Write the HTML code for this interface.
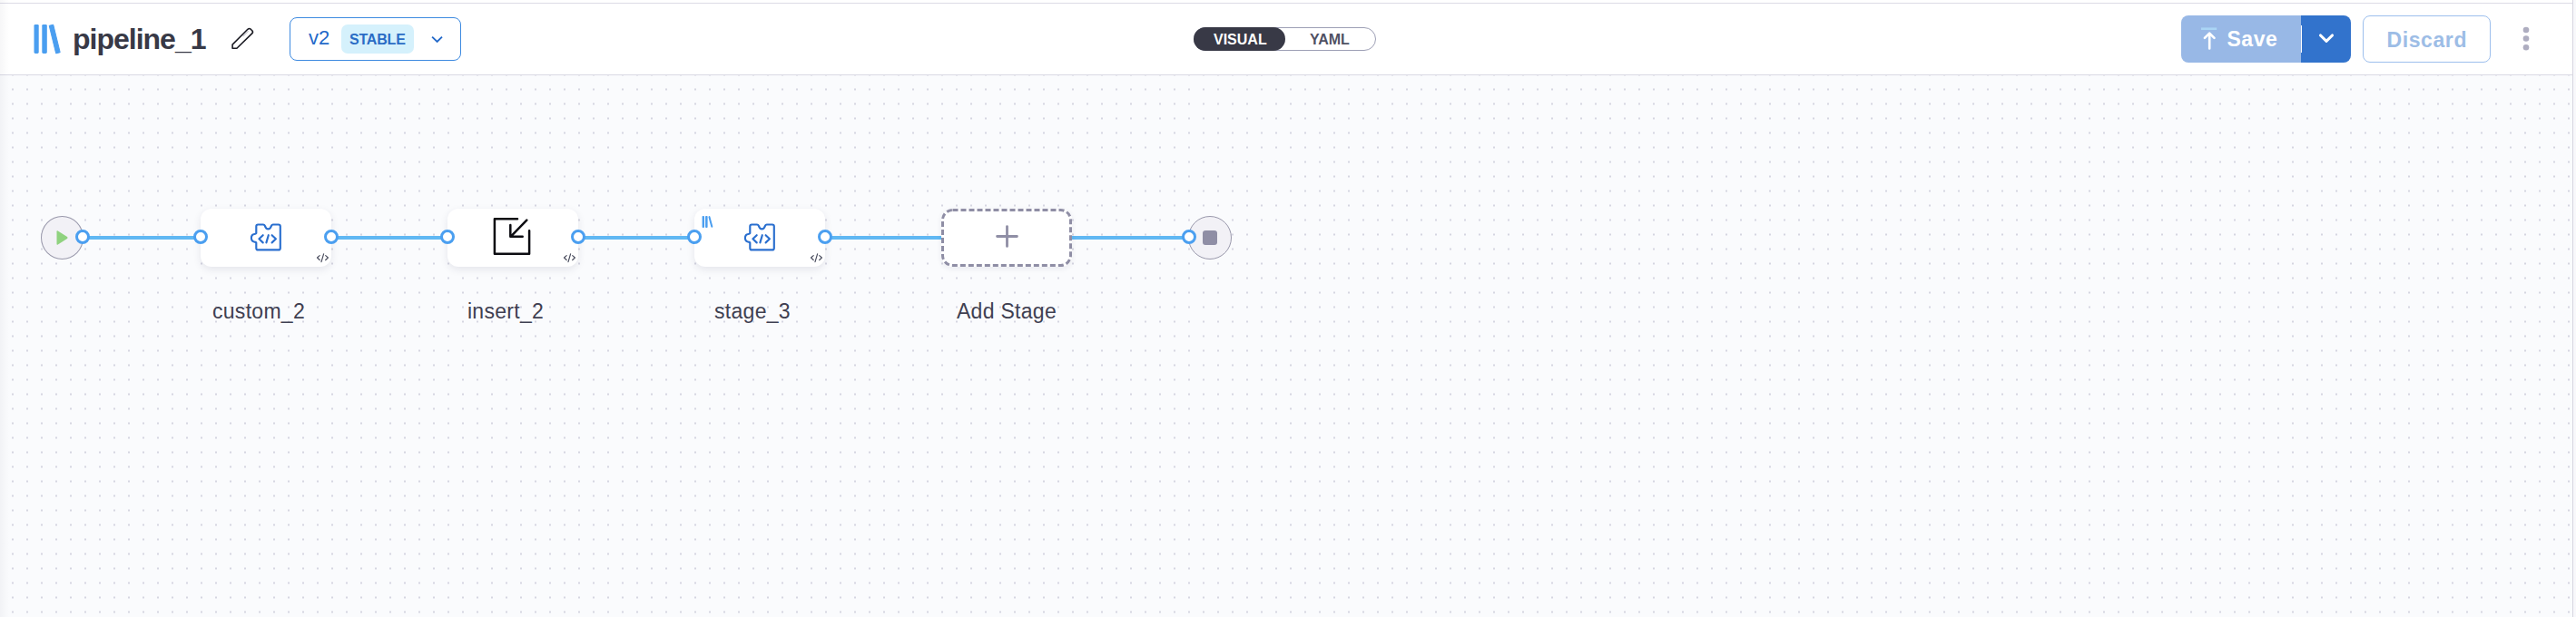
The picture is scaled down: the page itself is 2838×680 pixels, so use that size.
<!DOCTYPE html>
<html><head><meta charset="utf-8">
<style>
*{margin:0;padding:0;box-sizing:border-box}
html,body{width:2838px;height:680px;overflow:hidden;background:#fff;font-family:"Liberation Sans",sans-serif}
.abs{position:absolute}
#header{position:absolute;left:0;top:0;width:2834px;height:83px;background:#fff}
#topline{position:absolute;left:0;top:3px;width:2834px;height:1px;background:#dcdbe6}
#hline{position:absolute;left:0;top:82px;width:2834px;height:1px;background:#d9d9e4}
#canvas{position:absolute;left:0;top:83px;width:2834px;height:597px;background-color:#fafbfd;
}
#dots{position:absolute;left:0;top:83px;width:2834px;height:597px}
#rline{position:absolute;left:2834px;top:0;width:1px;height:680px;background:#d6d5e0}
#rfill{position:absolute;left:2835px;top:0;width:3px;height:680px;background:#f8f8fb}
#lshadow{position:absolute;left:0;top:0;width:10px;height:680px;background:linear-gradient(to right,rgba(60,60,90,0.045),rgba(60,60,90,0))}
.t{position:absolute;white-space:nowrap;line-height:1}
.card{width:144px;height:64px;border-radius:12px;background:#fff;box-shadow:0 3px 8px rgba(40,40,80,0.10)}
.port{width:16px;height:16px;border-radius:50%;background:#fff;border:3px solid #4b9ff0}
.lbl{font-size:23px;color:#3f4051;width:200px;text-align:center;letter-spacing:0.3px}
</style></head>
<body>
<div id="canvas"></div>
<svg id="dots" width="2834" height="597">
 <defs><pattern id="dp" x="0" y="8" width="16" height="16" patternUnits="userSpaceOnUse"><rect x="13" y="6.5" width="2" height="2" fill="#d5d6e1"/></pattern></defs>
 <rect width="2834" height="597" fill="url(#dp)"/>
</svg>
<div id="header"></div>
<div id="topline"></div>
<div id="hline"></div>
<div id="rline"></div>
<div id="rfill"></div>
<div id="lshadow"></div>

<!-- header content -->
<svg class="abs" style="left:36px;top:26px" width="32" height="34" viewBox="0 0 32 34">
 <rect x="1.5" y="0.9" width="5.2" height="32.1" rx="1.4" fill="#4a9ef0"/>
 <rect x="10.3" y="0.9" width="5.5" height="32.1" rx="1.4" fill="#4a9ef0"/>
 <path d="M18.2 2.3 L22.7 1.2 L30.2 31.7 L25.7 32.9 Z" fill="#4a9ef0" stroke="#4a9ef0" stroke-width="1" stroke-linejoin="round"/>
</svg>
<div class="t" id="title" style="left:80px;top:27px;font-size:32px;font-weight:bold;color:#383946;letter-spacing:-1px">pipeline_1</div>
<svg class="abs" style="left:250px;top:26px" width="34" height="32" viewBox="0 0 34 32">
 <path d="M6.1 27.3 V23.1 L22.9 6.3 Q24.6 4.8 26.2 6.2 L27.8 7.8 Q29.2 9.4 27.7 10.9 L10.9 27.3 Z" fill="none" stroke="#1c1c24" stroke-width="1.6" stroke-linejoin="round"/>
 <path d="M17.6 14 L23.6 8.2" stroke="#c4c4cc" stroke-width="1.1"/>
</svg>

<div class="abs" style="left:319px;top:19px;width:189px;height:48px;border:1.5px solid #3d8ae0;border-radius:8px"></div>
<div class="t" style="left:340px;top:31px;font-size:22px;color:#2369c9">v2</div>
<div class="abs" style="left:376px;top:27px;width:80px;height:32px;background:#d5f1fc;border-radius:7px"></div>
<div class="t" style="left:385px;top:36px;font-size:16px;font-weight:bold;color:#2a6cc5;letter-spacing:-0.2px">STABLE</div>
<svg class="abs" style="left:474px;top:38px" width="16" height="11" viewBox="0 0 16 11">
 <path d="M2.1 2.6 L7.6 8 L13 2.6" fill="none" stroke="#2369c9" stroke-width="1.9"/>
</svg>

<div class="abs" style="left:1315px;top:30px;width:201px;height:26px;border:1px solid #9d9fb5;border-radius:13px"></div>
<div class="abs" style="left:1315px;top:30px;width:101px;height:26px;background:#383946;border-radius:13px"></div>
<div class="t" style="left:1337px;top:36px;font-size:16px;font-weight:bold;color:#fff">VISUAL</div>
<div class="t" style="left:1443px;top:36px;font-size:16px;font-weight:bold;color:#4f5163">YAML</div>

<div class="abs" style="left:2403px;top:17px;width:187px;height:52px;border-radius:8px;overflow:hidden">
 <div class="abs" style="left:0;top:0;width:132px;height:52px;background:#98b8e6"></div>
 <div class="abs" style="left:132px;top:0;width:55px;height:52px;background:#3273cc"></div>
 <div class="abs" style="left:132px;top:11px;width:1px;height:30px;background:#fff"></div>
</div>
<svg class="abs" style="left:2423px;top:29px" width="22" height="28" viewBox="0 0 22 28">
 <rect x="2" y="1.4" width="17.2" height="2.6" fill="#aad5f5"/>
 <path d="M11.2 24.4 V8.4 M5.9 12.9 L11.2 7.6 L16.5 12.9" fill="none" stroke="#fff" stroke-width="2.6" stroke-linecap="round" stroke-linejoin="round"/>
</svg>
<div class="t" style="left:2453.5px;top:32px;font-size:23px;font-weight:bold;color:#fff;letter-spacing:0.5px">Save</div>
<svg class="abs" style="left:2553px;top:35px" width="20" height="15" viewBox="0 0 20 15">
 <path d="M3.4 3.9 L10 10.4 L16.6 3.9" fill="none" stroke="#fff" stroke-width="2.9" stroke-linecap="round" stroke-linejoin="round"/>
</svg>
<div class="abs" style="left:2603px;top:17px;width:141px;height:52px;border:1px solid #9dbfed;border-radius:8px"></div>
<div class="t" style="left:2629.5px;top:33px;font-size:23px;font-weight:bold;color:#9dbde6;letter-spacing:0.6px">Discard</div>
<svg class="abs" style="left:2777px;top:28px" width="12" height="30" viewBox="0 0 12 30">
 <circle cx="6" cy="5" r="3.3" fill="#aeadc0"/>
 <circle cx="6" cy="14.5" r="3.3" fill="#aeadc0"/>
 <circle cx="6" cy="24.2" r="3.3" fill="#aeadc0"/>
</svg>

<!-- canvas content -->
<div class="abs" style="left:91px;top:260px;width:130px;height:3.5px;background:#60b8f3"></div>
<div class="abs" style="left:365px;top:260px;width:128px;height:3.5px;background:#60b8f3"></div>
<div class="abs" style="left:637px;top:260px;width:128px;height:3.5px;background:#60b8f3"></div>
<div class="abs" style="left:909px;top:260px;width:128px;height:3.5px;background:#60b8f3"></div>
<div class="abs" style="left:1181px;top:260px;width:129px;height:3.5px;background:#60b8f3"></div>
<div class="abs" style="left:45px;top:238px;width:47px;height:48px;border-radius:50%;background:#f2f1f6;border:1px solid #9998ab"></div>
<svg class="abs" style="left:60px;top:253px" width="16" height="18" viewBox="0 0 16 18"><path d="M2.5 2.2 Q2.5 0.8 3.8 1.5 L14 8 Q15 9 14 10 L3.8 16.5 Q2.5 17.2 2.5 15.8 Z" fill="#8fd27f"/></svg>
<div class="abs" style="left:1309px;top:238px;width:48px;height:48px;border-radius:50%;background:#f2f1f6;border:1px solid #9998ab"></div>
<div class="abs" style="left:1325px;top:254px;width:16px;height:16px;border-radius:3px;background:#8f8ea5"></div>
<div class="abs card" style="left:221px;top:230px"></div>
<svg class="abs" style="left:272px;top:242px" width="42" height="38" viewBox="0 0 42 38">
<path d="M12.3 5.5 H18 Q19.2 5.5 19.8 6.8 Q21 10.3 23.4 10.3 Q25.8 10.3 27 6.8 Q27.6 5.5 28.8 5.5 H34.8 Q36.8 5.5 36.8 7.5 V31.4 Q36.8 33.4 34.8 33.4 H12.3 Q10.3 33.4 10.3 31.4 V25.5 Q9.8 24.6 8.5 24.6 Q4.9 24.2 4.9 20.3 Q4.9 16.4 8.5 16 Q9.8 16 10.3 15.1 V7.5 Q10.3 5.5 12.3 5.5 Z" fill="none" stroke="#2a6fcf" stroke-width="2.15" stroke-linejoin="round"/>
<path d="M17.7 17.2 L13.4 21.3 L17.7 25.4 M27.6 17.2 L31.9 21.3 L27.6 25.4 M23.8 17.2 L21.4 25.4" fill="none" stroke="#2a6fcf" stroke-width="2.15" stroke-linecap="round" stroke-linejoin="round"/>
</svg>
<svg class="abs" style="left:344px;top:274px" width="24" height="20" viewBox="0 0 24 20">
<path d="M8.2 7.6 L5.5 10 L8.2 12.5 M14.7 7.6 L17.4 10 L14.7 12.5 M12.6 5.9 L10 14.6" fill="none" stroke="#4a4d5e" stroke-width="1.2" stroke-linecap="round" stroke-linejoin="round"/>
</svg>
<div class="abs card" style="left:493px;top:230px"></div>
<svg class="abs" style="left:538px;top:236px" width="52" height="50" viewBox="0 0 52 50">
<path d="M32 5.3 H6.9 V43.7 H45.1 V18.2" fill="none" stroke="#0d0d12" stroke-width="2.5" stroke-linecap="round" stroke-linejoin="round"/>
<path d="M42.3 6.6 L25.5 23.9 M24.3 12 V24.7 H37.7" fill="none" stroke="#0d0d12" stroke-width="2.5" stroke-linecap="round" stroke-linejoin="round"/>
</svg>
<svg class="abs" style="left:616px;top:274px" width="24" height="20" viewBox="0 0 24 20">
<path d="M8.2 7.6 L5.5 10 L8.2 12.5 M14.7 7.6 L17.4 10 L14.7 12.5 M12.6 5.9 L10 14.6" fill="none" stroke="#4a4d5e" stroke-width="1.2" stroke-linecap="round" stroke-linejoin="round"/>
</svg>
<div class="abs card" style="left:765px;top:230px"></div>
<svg class="abs" style="left:816px;top:242px" width="42" height="38" viewBox="0 0 42 38">
<path d="M12.3 5.5 H18 Q19.2 5.5 19.8 6.8 Q21 10.3 23.4 10.3 Q25.8 10.3 27 6.8 Q27.6 5.5 28.8 5.5 H34.8 Q36.8 5.5 36.8 7.5 V31.4 Q36.8 33.4 34.8 33.4 H12.3 Q10.3 33.4 10.3 31.4 V25.5 Q9.8 24.6 8.5 24.6 Q4.9 24.2 4.9 20.3 Q4.9 16.4 8.5 16 Q9.8 16 10.3 15.1 V7.5 Q10.3 5.5 12.3 5.5 Z" fill="none" stroke="#2a6fcf" stroke-width="2.15" stroke-linejoin="round"/>
<path d="M17.7 17.2 L13.4 21.3 L17.7 25.4 M27.6 17.2 L31.9 21.3 L27.6 25.4 M23.8 17.2 L21.4 25.4" fill="none" stroke="#2a6fcf" stroke-width="2.15" stroke-linecap="round" stroke-linejoin="round"/>
</svg>
<svg class="abs" style="left:888px;top:274px" width="24" height="20" viewBox="0 0 24 20">
<path d="M8.2 7.6 L5.5 10 L8.2 12.5 M14.7 7.6 L17.4 10 L14.7 12.5 M12.6 5.9 L10 14.6" fill="none" stroke="#4a4d5e" stroke-width="1.2" stroke-linecap="round" stroke-linejoin="round"/>
</svg>
<svg class="abs" style="left:773px;top:237px" width="14" height="15" viewBox="0 0 14 15"><rect x="0.6" y="0.9" width="2.4" height="13" rx="0.9" fill="#4a9ef0"/><rect x="4.1" y="0.9" width="2.5" height="13" rx="0.9" fill="#4a9ef0"/><path d="M8.4 2.1 L11.3 12.8" stroke="#4a9ef0" stroke-width="2" stroke-linecap="round"/></svg>
<div class="abs" style="left:1037px;top:230px;width:144px;height:64px;border-radius:12px;background:#fff;box-shadow:0 2px 6px rgba(40,40,80,0.08)"></div>
<svg class="abs" style="left:1037px;top:230px" width="144" height="64"><rect x="1.5" y="1.5" width="141" height="61" rx="11" fill="none" stroke="#8f8ea5" stroke-width="3" stroke-dasharray="6 3"/></svg>
<svg class="abs" style="left:1097px;top:248px" width="25" height="25" viewBox="0 0 25 25"><path d="M12.5 1.6 V23.4 M1.6 12.5 H23.4" stroke="#8f8ea5" stroke-width="2.8" stroke-linecap="round"/></svg>
<div class="abs port" style="left:83px;top:253px"></div>
<div class="abs port" style="left:213px;top:253px"></div>
<div class="abs port" style="left:357px;top:253px"></div>
<div class="abs port" style="left:485px;top:253px"></div>
<div class="abs port" style="left:629px;top:253px"></div>
<div class="abs port" style="left:757px;top:253px"></div>
<div class="abs port" style="left:901px;top:253px"></div>
<div class="abs port" style="left:1302px;top:253px"></div>
<div class="t lbl" style="left:185px;top:332px">custom_2</div>
<div class="t lbl" style="left:457px;top:332px">insert_2</div>
<div class="t lbl" style="left:729px;top:332px">stage_3</div>
<div class="t lbl" style="left:1009px;top:332px">Add Stage</div>
</body></html>
